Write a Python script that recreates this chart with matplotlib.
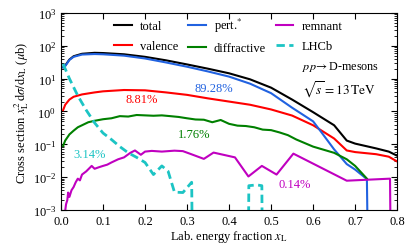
import numpy as np
import matplotlib
matplotlib.use("Agg")
import matplotlib.pyplot as plt

# x_L values for the smooth model curves
x_main = [0.005, 0.01, 0.02, 0.03, 0.05, 0.08, 0.1, 0.15, 0.2, 0.25, 0.3, 0.35,
          0.4, 0.45, 0.5, 0.55, 0.6, 0.65, 0.68, 0.7, 0.75, 0.78, 0.8]
total = [22, 25, 38, 48, 57, 61, 60, 55, 46, 36, 27, 20,
         14.5, 9.5, 5.3, 2.3, 0.95, 0.38, 0.13, 0.105, 0.075, 0.06, 0.045]
valence = [1.1, 1.6, 2.3, 2.8, 3.3, 3.8, 4.1, 4.5, 4.4, 3.8, 3.2, 2.5,
           2.0, 1.6, 1.15, 0.75, 0.38, 0.15, 0.065, 0.058, 0.05, 0.042, 0.03]

x_pert = [0.005, 0.01, 0.02, 0.03, 0.05, 0.08, 0.1, 0.15, 0.2, 0.25, 0.3, 0.35,
          0.4, 0.45, 0.5, 0.55, 0.6, 0.62, 0.65, 0.68, 0.7, 0.728, 0.732]
pert = [22, 24, 37, 46, 54, 56, 55, 50, 41, 31, 23, 16.5,
        11.5, 7.0, 3.6, 1.3, 0.5, 0.23, 0.07, 0.025, 0.017, 0.0087, 1e-6]

x_diff = [0.005, 0.01, 0.02, 0.03, 0.04, 0.05, 0.065, 0.08, 0.1, 0.12, 0.14, 0.16,
          0.18, 0.2, 0.22, 0.24, 0.26, 0.28, 0.3, 0.32, 0.34, 0.36, 0.38, 0.4,
          0.42, 0.44, 0.46, 0.48, 0.5, 0.52, 0.54, 0.56, 0.6, 0.65, 0.68, 0.7, 0.728]
diffractive = [0.09, 0.13, 0.2, 0.26, 0.33, 0.38, 0.47, 0.52, 0.58, 0.62, 0.72, 0.7,
               0.78, 0.76, 0.74, 0.76, 0.72, 0.68, 0.62, 0.57, 0.56, 0.47, 0.55, 0.42,
               0.37, 0.36, 0.33, 0.28, 0.27, 0.23, 0.19, 0.14, 0.085, 0.055, 0.035,
               0.022, 0.009]

x_remn = [0.008, 0.012, 0.015, 0.017, 0.02, 0.025, 0.03, 0.035, 0.04, 0.045, 0.05,
          0.06, 0.073, 0.08, 0.09, 0.1, 0.11, 0.12, 0.136, 0.15, 0.165, 0.176, 0.19,
          0.2, 0.216, 0.24, 0.27, 0.29, 0.31, 0.34, 0.363, 0.414, 0.446, 0.478,
          0.513, 0.553, 0.68, 0.783, 0.786]
remnant = [0.0006, 0.0015, 0.002, 0.0034, 0.0025, 0.004, 0.005, 0.007, 0.009,
           0.008, 0.012, 0.015, 0.022, 0.018, 0.02, 0.022, 0.024, 0.028, 0.035,
           0.04, 0.055, 0.065, 0.048, 0.06, 0.063, 0.06, 0.064, 0.062, 0.05, 0.036,
           0.056, 0.04, 0.0105, 0.022, 0.012, 0.052, 0.0078, 0.009, 1e-6]

# LHCb data (zero bins pushed below the axis)
x_lhcb = [0.005, 0.02, 0.04, 0.06, 0.08, 0.1, 0.12, 0.14, 0.16, 0.18, 0.2, 0.22,
          0.24, 0.255, 0.27, 0.29, 0.311, 0.314, 0.445, 0.447, 0.466, 0.478, 0.48]
lhcb = [28, 10, 3.0, 1.1, 0.45, 0.22, 0.14, 0.085, 0.055, 0.04, 0.028, 0.012,
        0.022, 0.015, 0.0035, 0.0034, 0.007, 1e-6, 1e-6, 0.0055, 0.0058, 0.0055, 1e-6]

plt.rcParams['font.family'] = ['Liberation Serif', 'DejaVu Serif']
plt.rcParams['mathtext.fontset'] = 'stix'
plt.rcParams['font.size'] = 9

fig = plt.figure(figsize=(4.15, 2.53), dpi=100)
ax = fig.add_axes([0.147, 0.166, 0.81, 0.779])

lw = 1.5
ax.plot(x_main, total, color='black', lw=lw, label='total')
ax.plot(x_main, valence, color='#ff0000', lw=lw, label='valence')
ax.plot(x_pert, pert, color='#2162e0', lw=lw, label='pert.$^{*}$')
ax.plot(x_diff, diffractive, color='#008000', lw=lw, label='diffractive')
ax.plot(x_remn, remnant, color='#c000c0', lw=lw, label='remnant')
ax.plot(x_lhcb, lhcb, color='#1cc4c4', lw=2, ls=(0, (3, 1.6)), label='LHCb')

ax.set_yscale('log')
ax.set_xlim(0, 0.8)
ax.set_ylim(1e-3, 1e3)
ax.set_xticks(np.arange(0, 0.81, 0.1))
ax.tick_params(which='both', direction='in', top=True, right=True)
ax.tick_params(which='major', length=4)
ax.tick_params(which='minor', length=2)
ax.set_xlabel(r'Lab. energy fraction $x_\mathrm{L}$', labelpad=1)
ax.set_ylabel(r'Cross section $x_\mathrm{L}^2\,\mathrm{d}\sigma/\mathrm{d}x_\mathrm{L}$ ($\mu$b)',
              labelpad=1)

# columns fill top-down: (total, valence) (pert., diffractive) (remnant, LHCb)
ax.legend(ncol=3, frameon=False, loc='upper left', bbox_to_anchor=(0.125, 1.04),
          fontsize=9, handlelength=1.4, columnspacing=0.8, handletextpad=0.65,
          labelspacing=0.6)

ax.text(0.193, 2.4, '8.81%', color='#ff0000', ha='center', va='center')
ax.text(0.364, 5.2, '89.28%', color='#2162e0', ha='center', va='center')
ax.text(0.317, 0.2, '1.76%', color='#008000', ha='center', va='center')
ax.text(0.067, 0.05, '3.14%', color='#1cc4c4', ha='center', va='center')
ax.text(0.557, 0.0062, '0.14%', color='#c000c0', ha='center', va='center')

ax.text(0.574, 24, r'$pp\!\rightarrow$D-mesons', ha='left', va='center', fontsize=8.7)
ax.text(0.574, 4.8, r'$\sqrt{s}=13\,\mathrm{TeV}$', ha='left', va='center', fontsize=9.5)

fig.savefig('out.png', dpi=100)
